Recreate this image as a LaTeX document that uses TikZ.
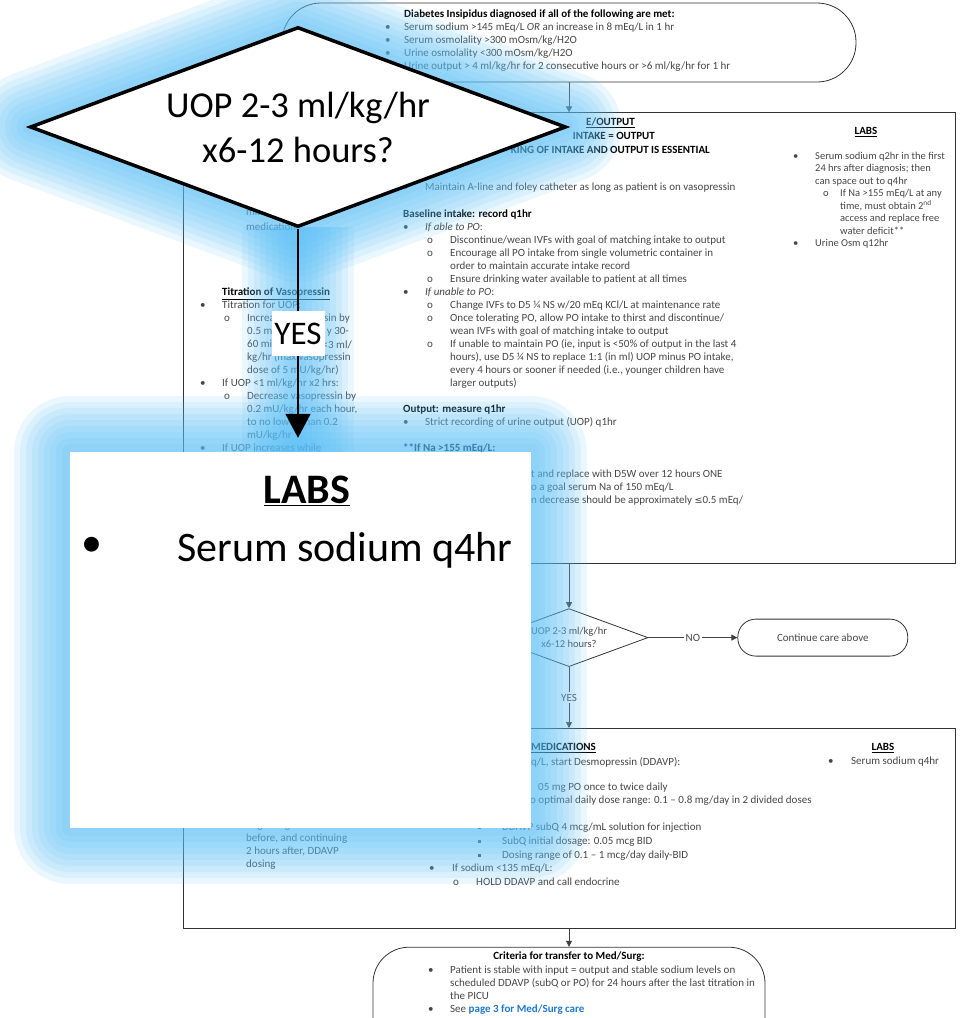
\documentclass[tikz,border=0pt]{standalone}
\usepackage{fontspec}
\setmainfont{Carlito}
\newfontfamily\symfont{DejaVu Sans}
\usepackage{xcolor}
\usepackage{tikz}
\usetikzlibrary{arrows.meta,positioning,shapes.geometric}

\definecolor{glowblue}{RGB}{90,190,245}
\definecolor{linkblue}{RGB}{30,120,210}
\definecolor{txtgray}{RGB}{70,70,70}

% list markers and indents
\newcommand{\lvA}[1][22pt]{\makebox[#1][l]{\textbullet}}
\newcommand{\lvB}{\hspace*{24pt}\makebox[23pt][l]{o}}
\newcommand{\lvC}{\hspace*{49pt}\makebox[24pt][l]{\rule[1.5pt]{2.6pt}{2.6pt}}}
\newcommand{\inA}{\hspace*{22pt}}
\newcommand{\inB}{\hspace*{47pt}}

\begin{document}
\begin{tikzpicture}[x=1pt,y=-1pt,>={Triangle[length=6pt,width=6pt]}]
  \tikzset{
    box/.style={draw=black!80,line width=.8pt,inner sep=0pt},
    term/.style={box,rounded corners=#1},
    txt/.style={anchor=north west,inner sep=0pt,align=left,text=txtgray,font=\fontsize{11}{13}\selectfont},
    hd/.style={inner sep=0pt,text=black,font=\fontsize{11}{13}\selectfont\bfseries},
    lbl/.style={fill=white,inner sep=1.5pt,text=txtgray,font=\fontsize{11}{12}\selectfont},
    link/.style={->,draw=black!75,line width=.7pt},
    halo/.style={preaction={draw=glowblue,opacity=.12,line width=112pt,line join=round},
      preaction={draw=glowblue,opacity=.12,line width=100pt,line join=round},
      preaction={draw=glowblue,opacity=.12,line width=88pt,line join=round},
      preaction={draw=glowblue,opacity=.12,line width=76pt,line join=round},
      preaction={draw=glowblue,opacity=.12,line width=64pt,line join=round},
      preaction={draw=glowblue,opacity=.12,line width=52pt,line join=round},
      preaction={draw=glowblue,opacity=.12,line width=40pt,line join=round},
      preaction={draw=glowblue,opacity=.12,line width=28pt,line join=round},
      preaction={draw=glowblue,opacity=.12,line width=16pt,line join=round}}
  }
  \useasboundingbox (0,0) rectangle (962,1018);
  \clip (0,0) rectangle (962,1018);

  % flow chart
  \node[term=39pt,minimum width=574pt,minimum height=79pt] (dx) at (569,42.5) {};
  \node[box,below=30pt of dx,minimum width=772pt,minimum height=451pt] (care) {};
  \node[box,diamond,aspect=2.7,below=44pt of care,minimum width=158pt,minimum height=58pt,align=center,text=txtgray,font=\fontsize{10.5}{13}\selectfont] (uopq) {UOP 2-3 ml/kg/hr\\x6-12 hours?};
  \node[term=18pt,right=89pt of uopq,minimum width=170pt,minimum height=37pt,text=txtgray,font=\fontsize{11}{13}\selectfont] (cont) {Continue care above};
  \node[box,below=61pt of uopq,minimum width=772pt,minimum height=200pt] (meds) {};
  \node[term=36pt,below=18pt of meds,minimum width=392pt,minimum height=150pt] (crit) {};
  \draw[link] (dx) -- (care);
  \draw[link] (care) -- (uopq);
  \draw[link] (uopq) -- node[lbl]{NO} (cont);
  \draw[link] (uopq) -- node[lbl]{YES} (meds);
  \draw[link] (meds) -- (crit);

  % top terminal
  \node[txt] (dxtxt) at (385,10) {\hspace*{19pt}\textbf{\textcolor{black}{Diabetes Insipidus diagnosed if all of the following are met:}}\\
    \lvA[19pt]Serum sodium >145 mEq/L \textit{OR} an increase in 8 mEq/L in 1 hr\\
    \lvA[19pt]Serum osmolality >300 mOsm/kg/H2O\\
    \lvA[19pt]Urine osmolality <300 mOsm/kg/H2O\\
    \lvA[19pt]Urine output > 4 ml/kg/hr for 2 consecutive hours or >6 ml/kg/hr for 1 hr};

  % intake / output column
  \node[hd,anchor=east] (iohd) at (635,123) {\underline{E/OUTPUT}};
  \node[hd,anchor=east] (iogoal) at (655,136) {INTAKE = OUTPUT};
  \node[hd,anchor=east] (iostrict) at (710,150) {KING OF INTAKE AND OUTPUT IS ESSENTIAL};
  \node[txt] (io) at (403,183) {\lvA Maintain A-line and foley catheter as long as patient is on vasopressin\\[14pt]
    \textbf{\textcolor{black}{Baseline intake: record q1hr}}\\
    \lvA\textit{If able to PO}:\\
    \lvB Discontinue/wean IVFs with goal of matching intake to output\\
    \lvB Encourage all PO intake from single volumetric container in\\
    \inB order to maintain accurate intake record\\
    \lvB Ensure drinking water available to patient at all times\\
    \lvA\textit{If unable to PO}:\\
    \lvB Change IVFs to D5 ¼ NS w/20 mEq KCl/L at maintenance rate\\
    \lvB Once tolerating PO, allow PO intake to thirst and discontinue/\\
    \inB wean IVFs with goal of matching intake to output\\
    \lvB If unable to maintain PO (ie, input is <50\% of output in the last 4\\
    \inB hours), use D5 ¼ NS to replace 1:1 (in ml) UOP minus PO intake,\\
    \inB every 4 hours or sooner if needed (i.e., younger children have\\
    \inB larger outputs)\\[13pt]
    \textbf{\textcolor{black}{Output: measure q1hr}}\\
    \lvA Strict recording of urine output (UOP) q1hr\\[13pt]
    \textbf{\textcolor{black}{**If Na >155 mEq/L:}}};
  \node[txt,anchor=west] (fwA) at (531,475) {t and replace with D5W over 12 hours ONE};
  \node[txt,anchor=west] (fwB) at (531,488) {o a goal serum Na of 150 mEq/L};
  \node[txt,anchor=west] (fwC) at (531,501) {n decrease should be approximately {\symfont\fontsize{9.5}{13}\selectfont ≤}0.5 mEq/};

  % labs column
  \node[hd] (labsA) at (866,132) {\underline{LABS}};
  \node[txt,font=\fontsize{10.5}{12.5}\selectfont] (labsAtxt) at (793,152) {\lvA Serum sodium q2hr in the first\\
    \inA 24 hrs after diagnosis; then\\
    \inA can space out to q4hr\\
    \hspace*{30pt}\makebox[17pt][l]{o}If Na >155 mEq/L at any\\
    \hspace*{47pt}time, must obtain 2\textsuperscript{nd}\\
    \hspace*{47pt}access and replace free\\
    \hspace*{47pt}water deficit**\\
    \lvA Urine Osm q12hr};

  % vasopressin column
  \node[txt] (vasomin) at (246,208) {mini\\[2pt]medication};
  \node[txt] (vaso) at (200,288) {\inA\textbf{\textcolor{black}{\underline{Titration of Vasopressin}}}\\
    \lvA Titration for UOP:\\
    \lvB Increa\\
    \inB 0.5 m\\
    \inB 60 mi\\
    \inB kg/hr (max vasopressin\\
    \inB dose of 5 mU/kg/hr)\\
    \lvA If UOP <1 ml/kg/hr x2 hrs:\\
    \lvB Decrease vasopressin by\\
    \inB 0.2 mU/kg/hr each hour,\\
    \inB to no lower than 0.2\\
    \inB mU/kg/hr\\
    \lvA If UOP increases while};
  \node[txt,anchor=east] (vasoA) at (350,319) {ssin by};
  \node[txt,anchor=east] (vasoB) at (349,332) {y 30-};
  \node[txt,anchor=east] (vasoC) at (352,345) {<3 ml/};

  % medications box
  \node[txt] (medsleft) at (246,821) {beginning 2 hours\\before, and continuing\\2 hours after, DDAVP\\dosing};
  \node[hd,anchor=west] (medshd) at (531,748) {\underline{MEDICATIONS}};
  \node[txt,anchor=west] (ddavp) at (531,762) {q/L, start Desmopressin (DDAVP):};
  \node[txt,anchor=west] (podose) at (538,788) {05 mg PO once to twice daily};
  \node[txt,anchor=west] (porange) at (530,801) {o optimal daily dose range: 0.1 – 0.8 mg/day in 2 divided doses};
  \node[txt,font=\fontsize{11}{13.6}\selectfont] (subq) at (429,823) {\lvC DDAVP subQ 4 mcg/mL solution for injection\\
    \lvC SubQ initial dosage: 0.05 mcg BID\\
    \lvC Dosing range of 0.1 – 1 mcg/day daily-BID\\
    \lvA[23pt]If sodium <135 mEq/L:\\
    \lvB HOLD DDAVP and call endocrine};
  \node[hd] (labsB) at (883,748) {\underline{LABS}};
  \node[txt] (labsBtxt) at (828,757) {\lvA[23pt]Serum sodium q4hr};

  % transfer terminal
  \node[hd] (crithd) at (569,957) {Criteria for transfer to Med/Surg:};
  \node[txt] (crittxt) at (428,966) {\lvA Patient is stable with input = output and stable sodium levels on\\
    \inA scheduled DDAVP (subQ or PO) for 24 hours after the last titration in\\
    \inA the PICU\\
    \lvA See \textcolor{linkblue}{\textbf{page 3 for Med/Surg care}}};

  % zoomed call-outs over the chart
  \coordinate (qtip) at (298,227);
  \coordinate (labtop) at (298,452);
  \path[halo] (qtip) -- (labtop);
  \node[diamond,aspect=2.68,draw,line width=3.5pt,fill=white,halo,minimum width=536pt,minimum height=200pt,inner sep=0pt,align=center,font=\fontsize{36.5}{45}\selectfont] (bigq) at (298,127) {UOP 2-3 ml/kg/hr\\x6-12 hours?};
  \node[fill=white,halo,minimum width=461pt,minimum height=376pt] (biglabs) at (300.5,640) {};
  \node[font=\fontsize{42}{50}\selectfont\bfseries] (biglabshd) at (307,491) {\underline{LABS}};
  \node[font=\fontsize{42}{50}\selectfont] (bigdot) at (92,547) {\textbullet};
  \node[font=\fontsize{42}{50}\selectfont,anchor=base west,inner sep=0pt] (bigsod) at (177,561) {Serum sodium q4hr};
  \draw[line width=1.6pt,-{Triangle[length=24pt,width=25pt]},shorten >=14pt] (bigq.south) -- (bigq.south |- biglabs.north);
  \node[fill=white,inner sep=0pt,minimum width=53pt,minimum height=45pt,font=\fontsize{33}{40}\selectfont] (bigyes) at (298,333.5) {YES};
\end{tikzpicture}
\end{document}
